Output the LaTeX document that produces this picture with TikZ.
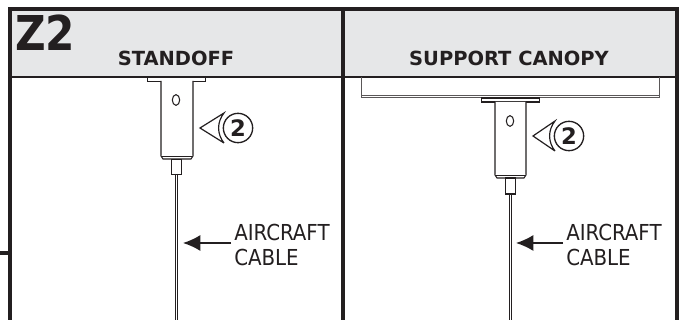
\documentclass[tikz,border=0pt]{standalone}
\usepackage{xcolor}
\usepackage{fontspec}
\setmainfont{DejaVu Sans}
\newfontfamily\condfont{DejaVu Sans Condensed}
\usetikzlibrary{positioning,arrows.meta,shapes.geometric}
\definecolor{ink}{HTML}{231F20}
\definecolor{headgray}{HTML}{E6E7E8}

\begin{document}
\begin{tikzpicture}[x=0.75pt, y=-0.75pt, ink, text=ink,
		frame/.style={draw=ink, line width=3pt},
		part/.style={draw=ink, fill=white, line width=0.8pt, inner sep=0pt},
		head/.style={font=\fontsize{14.6}{16}\selectfont\bfseries, inner sep=0pt, anchor=base},
		callnum/.style={part, circle, line width=1pt, minimum size=22pt, font=\fontsize{17}{18}\selectfont\bfseries},
		cablelabel/.style={font=\condfont\fontsize{16.5}{18.8}\selectfont, align=left, inner sep=0pt, anchor=west}]
		\useasboundingbox (0,0) rectangle (683,320);
		\fill[headgray] (10,9) rectangle (677,77);
		\draw[ink, line width=1.1pt] (10,77) -- (677,77);
		\draw[frame] (0,253.5) -- (10,253.5);
		\draw[frame] (10,320) -- (10,9) -- (677,9) -- (677,320);
		\draw[frame] (343,9) -- (343,320);
		\node[font=\fontsize{36}{38}\selectfont\bfseries, inner sep=0pt, anchor=base west] (zone) at (15,51) {\scalebox{0.88}[1]{Z2}};
		\node[head] (standoff) at (176,66) {STANDOFF};
		\node[head] (canopy) at (509,66) {SUPPORT CANOPY};
		% standoff side
		\node[part, minimum width=43pt, minimum height=3pt] (flangel) at (176.5,79.5) {};
		\draw[part] (161,81) -- (161,156) -- (163,159) -- (191,159) -- (193,156) -- (193,81);
		\draw[part, line width=0.4pt] (161,156) -- (193,156);
		\node[part, minimum width=7.5pt, minimum height=11pt] (stuml) at (176.5,167) {};
		\node[part, ellipse, minimum width=5.5pt, minimum height=8pt] (holel) at (176,100) {};
		\draw[part] (175.2,174) -- (175.2,320) (177.8,174) -- (177.8,320);
		\coordinate (tipl) at (200,128);
		\coordinate (topl) at (224,113);
		\coordinate (botl) at (224,143);
		\draw[line width=0.9pt] (botl) to[bend left=38] (topl) -- (tipl) -- (botl);
		\node[callnum] (numl) at (238,128) {2};
		\node[cablelabel] (cablel) at (234,245) {AIRCRAFT\\CABLE};
		\coordinate (cabletipl) at (183,243);
		\draw[-{Latex[length=13pt,width=12pt]}, line width=1.1pt] (cablel.west |- cabletipl) ++(-3,0) -- (cabletipl);
		% canopy side
		\draw[draw=ink!75, line width=0.6pt] (361,77) -- (361,97.5) -- (659,97.5) -- (659,77);
		\draw[draw=ink!75, line width=0.5pt] (361,95.5) -- (659,95.5);
		\node[part, minimum width=43pt, minimum height=3pt] (flanger) at (510.5,100) {};
		\draw[part] (495,102) -- (495,175) -- (497,178) -- (524,178) -- (526,175) -- (526,102);
		\draw[part, line width=0.4pt] (495,175) -- (526,175);
		\node[part, minimum width=8pt, minimum height=12pt] (stumr) at (510.5,186) {};
		\node[part, ellipse, minimum width=5.5pt, minimum height=8pt] (holer) at (510,121) {};
		\draw[part] (509.2,194) -- (509.2,320) (511.8,194) -- (511.8,320);
		\coordinate (tipr) at (533,136);
		\coordinate (topr) at (555,121);
		\coordinate (botr) at (555,151);
		\draw[line width=0.9pt] (botr) to[bend left=38] (topr) -- (tipr) -- (botr);
		\node[callnum] (numr) at (569,136) {2};
		\node[cablelabel] (cabler) at (566,245) {AIRCRAFT\\CABLE};
		\coordinate (cabletipr) at (516,243);
		\draw[-{Latex[length=13pt,width=12pt]}, line width=1.1pt] (cabler.west |- cabletipr) ++(-3,0) -- (cabletipr);
	\end{tikzpicture}
\end{document}
